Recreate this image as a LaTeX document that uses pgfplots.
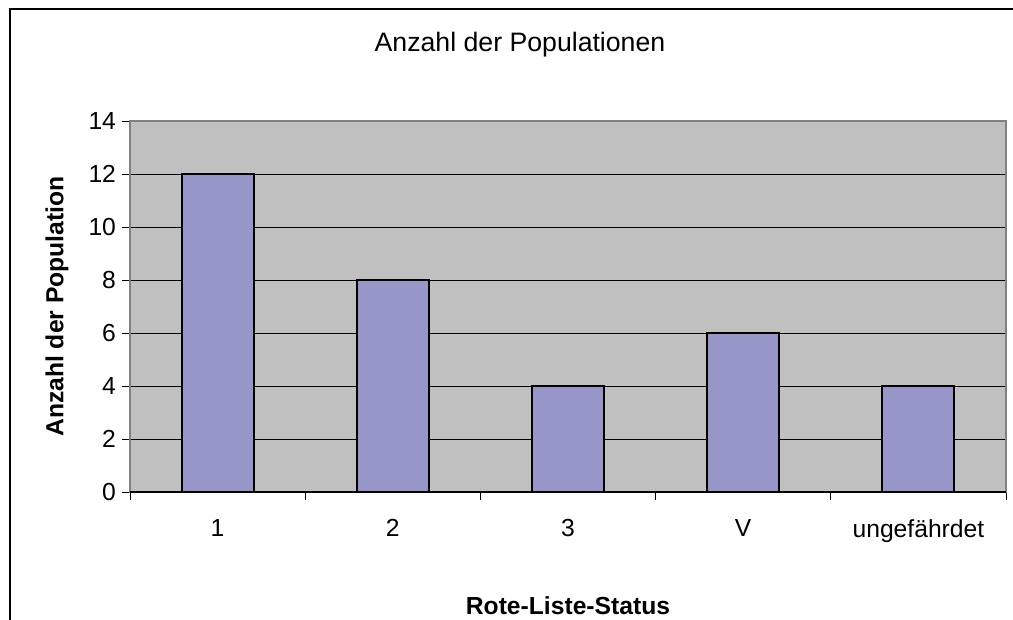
\documentclass[border=0pt]{standalone}
\usepackage{fontspec}
\setmainfont{Liberation Sans}
\usepackage{pgfplots}
\pgfplotsset{compat=1.18}
\definecolor{plotbg}{HTML}{C0C0C0}
\definecolor{barfill}{HTML}{9696C8}
\definecolor{framegray}{HTML}{808080}
\begin{document}
\begin{tikzpicture}[x=0.75pt,y=0.75pt]
\path[use as bounding box] (0,0) rectangle (1013,619);
\coordinate (o) at (130,127);
\draw[line width=1.5pt] (10,-2) -- (10,610) -- (1015,610);
\node[font=\fontsize{20}{24}\selectfont] at (520,574) {Anzahl der Populationen};
\begin{axis}[
  at={(o)}, anchor=south west,
  scale only axis, width=657pt, height=278.25pt,
  xmin=0.5, xmax=5.5, ymin=0, ymax=14,
  axis background/.style={fill=plotbg},
  ytick={0,2,...,14},
  xtick={1,...,5},
  xticklabels={1,2,3,V,ungefährdet},
  minor xtick={0.5,1.5,...,5.5},
  major x tick style={draw=none},
  xtick pos=bottom, ytick pos=left,
  tick align=outside,
  major tick length=6pt, minor tick length=6pt,
  tick style={black, line width=0.75pt},
  ymajorgrids,
  major grid style={black, line width=0.75pt},
  axis line style={framegray, line width=1.2pt},
  /pgf/number format/assume math mode=true,
  ticklabel style={font=\fontsize{18.5}{22}\selectfont},
  xticklabel style={yshift=-11pt},
  yticklabel style={xshift=-1pt},
  xlabel={\textbf{Rote-Liste-Status}},
  ylabel={\textbf{Anzahl der Population}},
  label style={font=\fontsize{18.5}{22}\selectfont},
  xlabel style={at={(axis description cs:0.5,-0.307)}, anchor=center},
  ylabel style={at={(axis description cs:-0.0833,0.5)}, anchor=center},
  ybar, bar width=54pt,
]
\addplot[fill=barfill, draw=black, line width=1.5pt] coordinates {(1,12) (2,8) (3,4) (4,6) (5,4)};
\draw[black, line width=1pt] (axis cs:0.5,0) -- (axis cs:5.5,0);
\end{axis}
\end{tikzpicture}
\end{document}
